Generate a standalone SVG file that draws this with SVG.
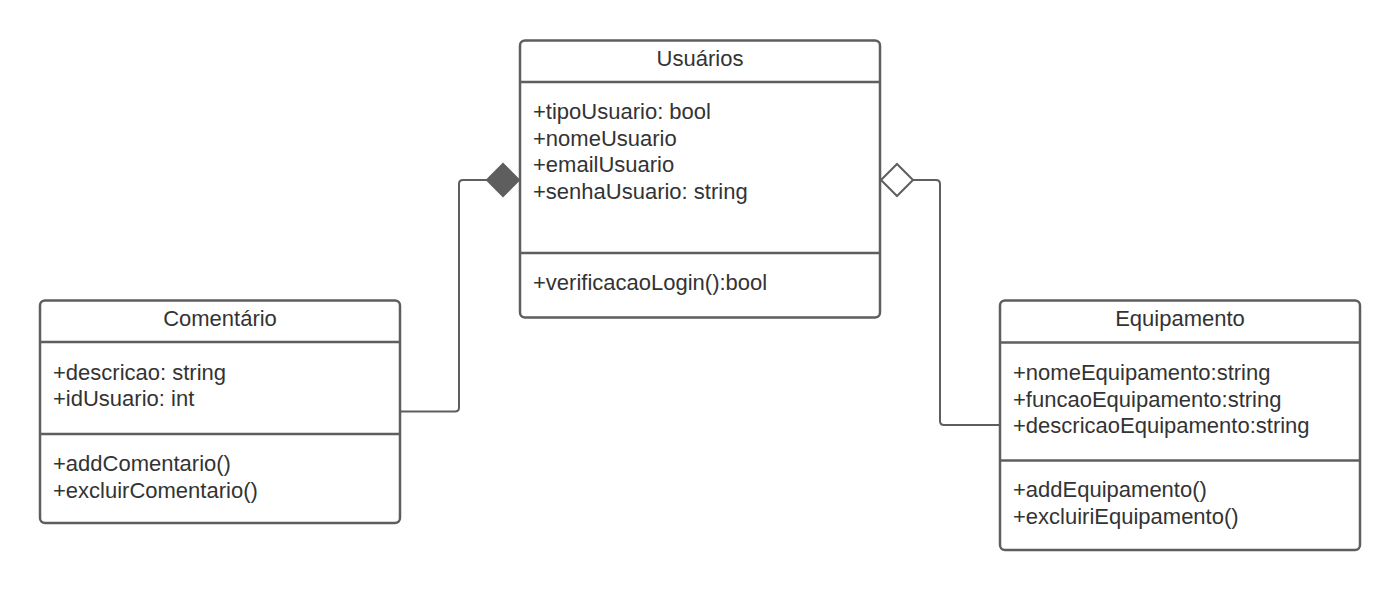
<svg xmlns="http://www.w3.org/2000/svg" width="1400" height="591" viewBox="0 0 1400 591">
<style>
.box{fill:#fff;stroke:#5e5e5e;stroke-width:2.5}
.div{stroke:#5e5e5e;stroke-width:2.5}
.t{font-family:"Liberation Sans",Arial,sans-serif;font-size:22px;fill:#333}
.c{text-anchor:middle}
.con{fill:none;stroke:#5e5e5e;stroke-width:2;stroke-linejoin:round}
</style>
<rect width="1400" height="591" fill="#fff"/>
<g id="connectors">
<path class="con" d="M400,411.5 H455 Q459,411.5 459,407.5 V184 Q459,180 463,180 H487"/>
<path d="M487,180 L503,164 L519,180 L503,196 Z" fill="#5e5e5e" stroke="#5e5e5e" stroke-width="2"/>
<path class="con" d="M913,180 H936 Q940,180 940,184 V421 Q940,425 944,425 H1000"/>
<path d="M881,180 L897,164 L913,180 L897,196 Z" fill="#fff" stroke="#5e5e5e" stroke-width="2"/>
</g>
<g id="usuarios">
<rect class="box" x="520" y="40.5" width="360" height="277" rx="5"/>
<line class="div" x1="520" y1="82" x2="880" y2="82"/>
<line class="div" x1="520" y1="253" x2="880" y2="253"/>
<text class="t c" x="700" y="66">Usuários</text>
<text class="t" x="533" y="119">+tipoUsuario: bool</text>
<text class="t" x="533" y="145.5">+nomeUsuario</text>
<text class="t" x="533" y="172">+emailUsuario</text>
<text class="t" x="533" y="198.5">+senhaUsuario: string</text>
<text class="t" x="533" y="290">+verificacaoLogin():bool</text>
</g>
<g id="comentario">
<rect class="box" x="40" y="300.5" width="360" height="222.5" rx="5"/>
<line class="div" x1="40" y1="342" x2="400" y2="342"/>
<line class="div" x1="40" y1="434" x2="400" y2="434"/>
<text class="t c" x="220" y="326">Comentário</text>
<text class="t" x="53" y="380">+descricao: string</text>
<text class="t" x="53" y="406">+idUsuario: int</text>
<text class="t" x="53" y="471">+addComentario()</text>
<text class="t" x="53" y="497.5">+excluirComentario()</text>
</g>
<g id="equipamento">
<rect class="box" x="1000" y="300.5" width="360" height="249.5" rx="5"/>
<line class="div" x1="1000" y1="342.5" x2="1360" y2="342.5"/>
<line class="div" x1="1000" y1="460.5" x2="1360" y2="460.5"/>
<text class="t c" x="1180" y="326">Equipamento</text>
<text class="t" x="1013" y="380">+nomeEquipamento:string</text>
<text class="t" x="1013" y="406.5">+funcaoEquipamento:string</text>
<text class="t" x="1013" y="433">+descricaoEquipamento:string</text>
<text class="t" x="1013" y="497">+addEquipamento()</text>
<text class="t" x="1013" y="523.5">+excluiriEquipamento()</text>
</g>
</svg>
